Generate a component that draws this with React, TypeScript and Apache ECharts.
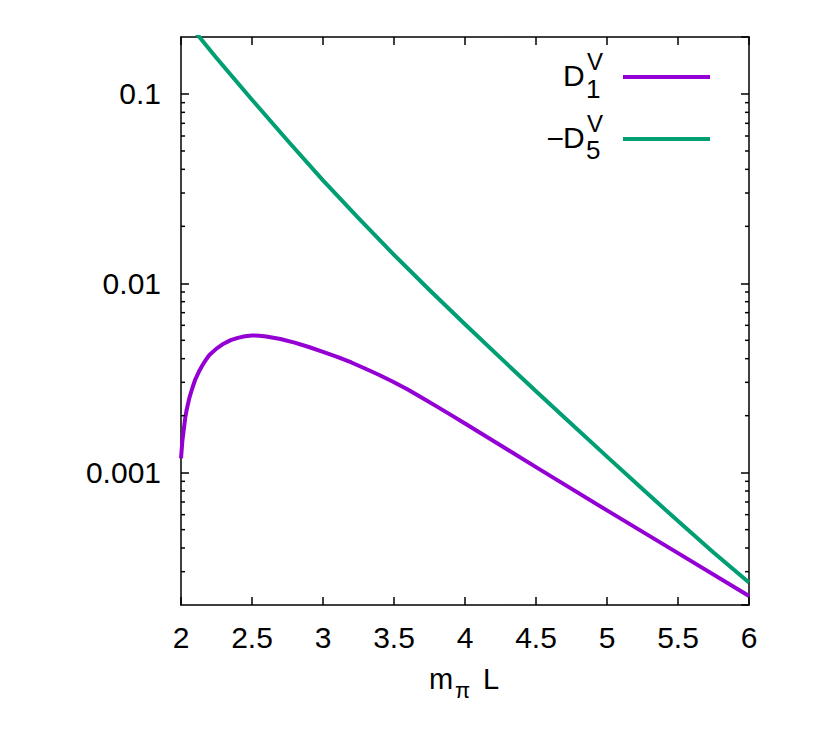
import React, { useEffect, useRef } from "react";
import * as echarts from "echarts";

// ---- data ----
const d1X = [2.0, 2.01, 2.02, 2.03, 2.04, 2.06, 2.08, 2.1, 2.125, 2.15, 2.175, 2.2, 2.25, 2.3, 2.35, 2.4, 2.45, 2.5, 2.55, 2.6, 2.7, 2.8, 2.9, 3.0, 3.1, 3.2, 3.3, 3.4, 3.5, 3.6, 3.7, 3.8, 3.9, 4.0, 4.5, 5.0, 5.5, 6.0];
const d1Y = [0.00119, 0.00148, 0.0017, 0.00195, 0.00215, 0.0025, 0.0028, 0.0031, 0.0034, 0.00368, 0.00394, 0.00418, 0.00452, 0.0048, 0.00501, 0.00515, 0.00525, 0.0053, 0.00529, 0.00524, 0.00508, 0.00486, 0.00461, 0.00435, 0.00409, 0.00382, 0.00354, 0.00327, 0.003, 0.00274, 0.00248, 0.00224, 0.00202, 0.00182, 0.00107, 0.000632, 0.000376, 0.000223];

const d5X = [2.1, 2.25, 2.5, 2.75, 3.0, 3.25, 3.5, 3.75, 4.0, 4.25, 4.5, 4.75, 5.0, 5.25, 5.5, 5.75, 6.0];
const d5Y = [0.2128, 0.1549, 0.0933, 0.0568, 0.035, 0.0221, 0.01414, 0.00922, 0.00608, 0.00404, 0.00269, 0.001807, 0.001215, 0.000819, 0.000555, 0.000379, 0.000263];

const X_MIN = 2;
const X_MAX = 6;
const X_INTERVAL = 0.5;
const Y_MIN = 0.0002;
const Y_MAX = 0.2;
const yTickValues = [0.001, 0.01, 0.1];
const yTickLabels = ["0.001", "0.01", "0.1"];
const yMinorTicks = [
  0.0003, 0.0004, 0.0005, 0.0006, 0.0007, 0.0008, 0.0009,
  0.002, 0.003, 0.004, 0.005, 0.006, 0.007, 0.008, 0.009,
  0.02, 0.03, 0.04, 0.05, 0.06, 0.07, 0.08, 0.09,
];

const PURPLE = "#9400D3";
const GREEN = "#009E73";
const FONT = "'Liberation Sans', Arial, Helvetica, sans-serif";
const LW = 4;

export default function App() {
  const ref = useRef<HTMLDivElement>(null);

  useEffect(() => {
    if (!ref.current) return;
    const chart = echarts.init(ref.current, null, { renderer: "svg" });

    const yLabel = (v: number) => {
      for (let i = 0; i < yTickValues.length; i++) {
        if (Math.abs(Math.log10(v) - Math.log10(yTickValues[i])) < 1e-6) return yTickLabels[i];
      }
      return "";
    };

    const axisLine = { show: true, onZero: false, lineStyle: { color: "#000", width: 1.5 } };
    const majorTick = { show: true, inside: true, length: 8, lineStyle: { color: "#000", width: 1.5 } };

    const txt = (text: string, x: number, y: number, size: number, align = "left") => ({
      type: "text",
      x,
      y,
      style: { text, fontSize: size, fontFamily: FONT, fill: "#000", align, verticalAlign: "middle" },
    });

    const option: any = {
      animation: false,
      backgroundColor: "#fff",
      grid: { left: 181, top: 37, right: 73, bottom: 138, containLabel: false },
      xAxis: [
        {
          type: "value",
          min: X_MIN,
          max: X_MAX,
          interval: X_INTERVAL,
          position: "bottom",
          axisLine,
          axisTick: majorTick,
          splitLine: { show: false },
          axisLabel: { color: "#000", fontSize: 30, fontFamily: FONT, margin: 17 },
        },
        {
          type: "value",
          min: X_MIN,
          max: X_MAX,
          interval: X_INTERVAL,
          position: "top",
          axisLine,
          axisTick: majorTick,
          splitLine: { show: false },
          axisLabel: { show: false },
        },
      ],
      yAxis: [
        {
          type: "log",
          logBase: 10,
          min: Y_MIN,
          max: Y_MAX,
          position: "left",
          axisLine,
          axisTick: majorTick,
          splitLine: { show: false },
          axisLabel: {
            color: "#000",
            fontSize: 30,
            fontFamily: FONT,
            margin: 20,
            showMinLabel: false,
            showMaxLabel: false,
            formatter: yLabel,
          },
        },
        {
          type: "log",
          logBase: 10,
          min: Y_MIN,
          max: Y_MAX,
          position: "right",
          axisLine,
          axisTick: majorTick,
          splitLine: { show: false },
          axisLabel: { show: false },
        },
      ],
      series: [
        {
          name: "D1V",
          type: "line",
          data: d1X.map((x, i) => [x, d1Y[i]]),
          showSymbol: false,
          smooth: false,
          lineStyle: { color: PURPLE, width: LW, join: "round" },
          itemStyle: { color: PURPLE },
          clip: true,
          z: 3,
        },
        {
          name: "-D5V",
          type: "line",
          data: d5X.map((x, i) => [x, d5Y[i]]),
          showSymbol: false,
          smooth: false,
          lineStyle: { color: GREEN, width: LW, join: "round" },
          itemStyle: { color: GREEN },
          clip: true,
          z: 3,
        },
        {
          name: "minorTicks",
          type: "custom",
          silent: true,
          data: yMinorTicks.map((v) => [X_MIN, v]),
          renderItem: (params: any, api: any) => {
            const v = api.value(1);
            const pl = api.coord([X_MIN, v]);
            const pr = api.coord([X_MAX, v]);
            const st = { stroke: "#000", lineWidth: 1.5 };
            return {
              type: "group",
              children: [
                { type: "line", shape: { x1: pl[0], y1: pl[1], x2: pl[0] + 4, y2: pl[1] }, style: st },
                { type: "line", shape: { x1: pr[0] - 4, y1: pr[1], x2: pr[0], y2: pr[1] }, style: st },
              ],
            };
          },
          z: 4,
        },
      ],
      graphic: [
        // legend entry 1
        txt("D", 563, 75, 30),
        txt("V", 587, 61, 24),
        txt("1", 586, 89, 26),
        { type: "line", shape: { x1: 623, y1: 77, x2: 710, y2: 77 }, style: { stroke: PURPLE, lineWidth: LW } },
        // legend entry 2
        txt("\u2212", 564, 138, 30, "right"),
        txt("D", 563, 137, 30),
        txt("V", 587, 123, 24),
        txt("5", 586, 150, 26),
        { type: "line", shape: { x1: 623, y1: 139, x2: 710, y2: 139 }, style: { stroke: GREEN, lineWidth: LW } },
        // x axis title: m_pi L
        txt("m", 429, 679, 29),
        txt("\u03c0", 455, 690, 22),
        txt("L", 483, 679, 29),
      ],
    };

    chart.setOption(option);
    return () => chart.dispose();
  }, []);

  return (
    <div
      ref={ref}
      style={{ position: "fixed", left: 0, top: 0, width: 822, height: 743, background: "#fff" }}
    />
  );
}
